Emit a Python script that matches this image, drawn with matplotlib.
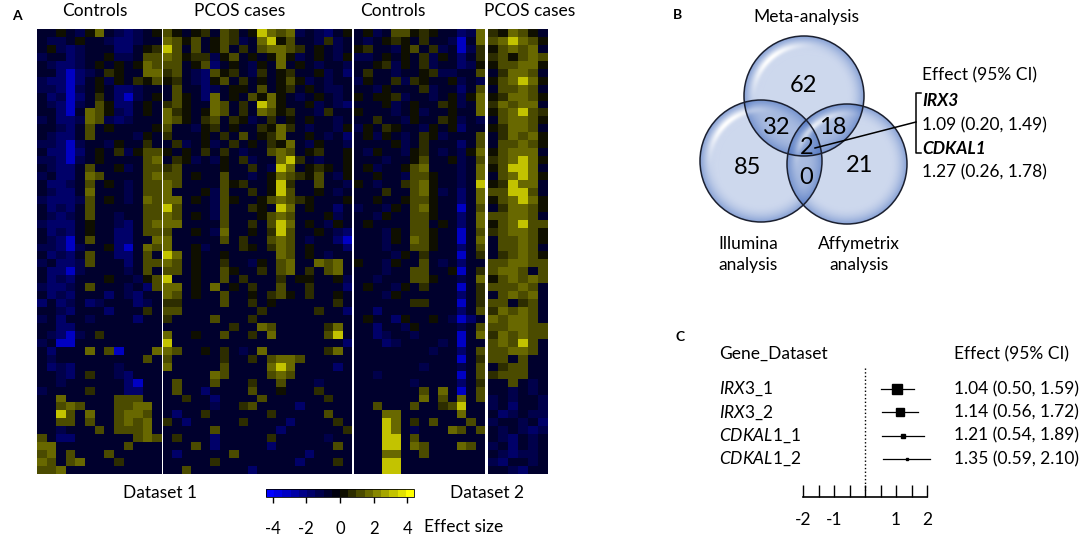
import numpy as np
import matplotlib
matplotlib.use('Agg')
import matplotlib.pyplot as plt
import matplotlib.cm as cm
from matplotlib.colors import LinearSegmentedColormap, Normalize
from matplotlib.patches import Circle

plt.rcParams['font.family'] = ['Lato', 'DejaVu Sans']
plt.rcParams['mathtext.fontset'] = 'custom'
plt.rcParams['mathtext.rm'] = 'Lato'
plt.rcParams['mathtext.it'] = 'Lato:italic'
plt.rcParams['mathtext.bf'] = 'Lato:bold'
plt.rcParams['axes.unicode_minus'] = False

# ---------------- data ----------------
group_labels = ['Controls', 'PCOS cases', 'Controls', 'PCOS cases']
dataset_labels = ['Dataset 1', 'Dataset 2']
panel_ncols = [13, 20, 14, 6]

# heatmap cells, one char per cell (level code)
level_codes = {'B': -3.3, 'b': -1.8, 'n': -1.1, 'k': -0.5, '.': 0.0,
               'd': 0.6, 'o': 1.2, 'y': 1.9, 'Y': 3.0}
heat_rows = [
    "kk.kn.yknbnk.|o.k.dkodk.Yyoynknbk.|k.nkoo.d.kkbny|d.yo.k",
    "knnk.kknbbnkk|yo.ok.odnkyY.okkndnk|knk.d.kdkknBky|oyYyo.",
    "k.nbnkkkbbk.d|Yokok.okdkoyyodk.knk|.dkkn.okdnkBnd|.oyoyk",
    "nkkbnkk.nnkoo|yo.ddn.ok.k.y.nk.kn.|nnk.k.kdn.kbkd|do.oyo",
    "knbbnk.k.k.yo|ook.obk.kn.kyk.knkkn|kk.dn.kdnkkbn.|.ooyy.",
    "kkbBbnkd.kkyy|doknbo.dkndk.dkk.nkb|kdkknkk.dnnkko|kdyyok",
    "nbbBbk.n.kd.o|.dknb.okdk.k.o.nknkk|n.kkdnd.kk.nkn|.oyYy.",
    "nnbBnk.kbbnkk|kokkbnk..kok.dk.knnk|kkn.kkkdnkkbko|kooyok",
    "kbnBbkdkbBnk.|ko.kbyk.ko.y.knk.knk|.k..dnkknk.n.y|.dyyo.",
    "knbBnko.bbk.k|do.kkyokdkYy.kk.nknb|kkk.nk.kkd.nky|dyoyyk",
    "kkbBkyo.nbk.k|yd.k.yokdkyo.dkkndkk|.kkknk.nkk.kky|.oyYod",
    "nkbbnyonbnkkk|yo.kdokd.nkdk.k.kknk|kkdkkn.kkd.nkn|koyyo.",
    "kknbkok.kkkk.|okkn.dk.kkd.ydknkkn.|n.kd.kkn.k.bkk|.dyyok",
    "knbbkokkkkn.k|dkkk.kdkok.dykk.knkb|k.n.knkd.nkkko|kdyoy.",
    "nnbBnkkn.kkdk|kdnk.nkdk.kd.ykn.kkn|kkkk.nkdkkkbko|kooyo.",
    "kbbBbk.kdn.oo|.k.kdkdknkkoyok.dkk.|kn.kkn.dknkn.y|.oyyyk",
    "nnbBnk.kkkkoy|kd.nkn.kdnkkyYdknkk.|kkknkk.okk.nko|doyYy.",
    "knbbkokk.nkoo|dokkkk.kkdknYyk.d.k.|k.nkk.oykkknky|.oYYyk",
    "nkbbkyokkkkoy|ook.kkokknk.yod.okn.|kk.kknoo.kknky|koyYy.",
    "kbbnkok.knkoo|yokkkko.dkk.Ydkkokkn|.knkkdoy.kknkY|.dYyyk",
    "knbbkykkknkoo|ykkk.nokkdk.Yokk.knk|kkkdkkoy.nkbky|ooYYok",
    "nbbbnok.knkyo|yyk.kno.kk.oyod.kkk.|kk.kk.oo.kkbky|.oyYy.",
    "kbnbkokkkkkoo|Yokkknokkd.kYyk.kkbk|nkkn.koy.kkBko|kdyyo.",
    "knbnkokknkkoo|yok.knokkk.oyokkk.nk|kkn.kkoo.kkbky|ooyyok",
    "nbbbk.kknbkoy|yykkkkokkdkoYyk.kn.k|k.kkkkook.kbky|.oyYoo",
    "kbnbk.kkbbkoo|okk.knykk.kdYokk.knb|kkkn.koo.kkBko|doyyo.",
    "knbBkokkbbkky|ykkkkkokdkkoyoknkkbB|kkkn.kyo.kkBky|kooyo.",
    "nnbBnkk.bBkyo|ykk.nkkkd.kdyok.kkkb|kkknkkoo.kkbko|kooyok",
    "kbnbkokkbbkok|Yyk.kk.kkkkkyok.knkk|kkkkn.kdkkkBkd|kdoyo.",
    "nkbbnokkkbkoo|yok.kkdkkn.koykkyoyk|.kkn.kkoknkbkk|ooyyoo",
    "kbbBnkkkknkok|ook.kko.kkdkoykdkoyk|kkknkkookk.Bkd|oyyoko",
    "kbnbkkk.kkn.o|Ykk.kkokdkkkdk..kk.n|kknkkkoo.kknky|.oyoyo",
    "nbbnkokkknkbo|yyk.kyk.kdkkokkdkkkb|k.kkn.kdkkkBkd|oooyok",
    "kbnbkkkbknbkk|yok.kkokk.kdo.kdkk.k|kkkn.kkkkkkbkd|koyoyk",
    "bkbnkbnkkkbnk|ddkkkkokkdk.kkkkkkdk|kkkkkkddkkkBkd|ookdok",
    "kknbkkkbkkkdk|ookkkkkkkkdkkkkkdkkb|kkbkkkkkkkkbko|dyoyok",
    "nkbkknkkkkbkk|dkkkkokkkdkkkkkkkkkk|k.kkb.kk.knBbk|yoyyok",
    "kkbbkkkkkkkkk|kkkkkkkdkkyokkkkkdyk|kkbkkn.kkkknko|ooyyoo",
    "knbBnkdkkkkkk|ykk.kkokkdkykkkkkoYk|kkbnkknkkkkBky|dyoyoo",
    "nkBBkkkkkkkkk|Ykkkkkkkkkkkkkkkkkkb|kkkbnkkkknkBkk|oyoYok",
    "kbkkkykoBkkky|yokk.kdknkykkkkkkdyk|kkkkkkkknkkbko|ooyyok",
    "knkkkkkkkkkok|okkkkkdkkdkoyyokkkkk|kkkkkkkkkkkBkd|ookokk",
    "kbnbkkkknkkkk|ykkkkkokkkkyYykkkkbk|kkkkkkknkkknko|kdookk",
    "kknbkdkknbkkk|kkkkkyokkkkoyokkkkkk|kknkkkkkkkkBko|doookk",
    "kknkkkkkkbBkk|kokkkokkkdkkokkknkkk|kkkkkknkkkkbkd|kkoknk",
    "nkkkkdkkkbbkk|kokkbkkkkokk.kkkdkkk|kkkkkkkokykBko|kknknk",
    "kkykkkkkoookk|kkdkkbkkkkokkkkkkdkk|kkkkkkkykokyko|nknkkn",
    "kkoyokkkooyyk|kkkkknkkdokkkkbkkkkk|kkokkkokkdoYkk|nkbkkn",
    "kkYokykkoyyok|kbkkdkkkkkkdkkkkkokk|kkkyykkkkkkykk|kbnknn",
    "kkookokkoyoyk|dkbkkkkkdkkkkbkkkkdk|kkkYykdkokkkok|nkknkb",
    "kknkkkokoooyk|kkkkkokkkkkkbkkkkkkd|kkkYyknkkkyoko|knknbn",
    "okbbkkkkkkoyo|kdkkkbkkkkkdkkkkknkk|kkkYYkokkkkkkk|knbknk",
    "yykkkkkkkokkk|kkkokbkkkkkbkkkkkkok|kkkYYkyokkkyok|nkbknk",
    "oykokkkokkkkk|kbkkkkkokkkkkkkbkkkk|kkkyykkokkkkkk|knbnnk",
    "yokoykkkdkkkk|kkkkkdkkkkkkkkbkkkdk|kkkYYkkkkkkkkk|nbkknk",
    "ooykkkkkkkkkk|kkokkkkkkbkkkkkkkkkk|kkkYYkkkkkkkkk|kknbkk",
]
cbar_ticks = [-4, -2, 0, 2, 4]

venn_sets = ['Meta-analysis', 'Illumina\nanalysis', 'Affymetrix\nanalysis']
venn_counts = [62, 32, 18, 2, 85, 0, 21]
overlap_genes = ['IRX3', 'CDKAL1']
overlap_effects = ['1.09 (0.20, 1.49)', '1.27 (0.26, 1.78)']

forest_genes = ['IRX3', 'IRX3', 'CDKAL1', 'CDKAL1']
forest_sets = ['1', '2', '1', '2']
forest_est = [1.04, 1.14, 1.21, 1.35]
forest_lo = [0.50, 0.56, 0.54, 0.59]
forest_hi = [1.59, 1.72, 1.89, 2.10]
forest_ticks = [-2, -1.5, -1, -0.5, 0, 0.5, 1, 1.5, 2]
forest_ticklabels = ['-2', '', '-1', '', '', '', '1', '', '2']

# ---------------- layout helpers ----------------
W, H = 1084, 536
fig = plt.figure(figsize=(W / 100, H / 100), dpi=100)


def fax(x0, y0, x1, y1):
    return [x0 / W, 1 - y1 / H, (x1 - x0) / W, (y1 - y0) / H]


def panel_matrix(k):
    out = []
    for row in heat_rows:
        part = row.split('|')[k]
        n = panel_ncols[k]
        part = (part + 'k' * n)[:n]
        out.append([level_codes[c] for c in part])
    return np.array(out)


# ---------------- A: heatmap ----------------
cmap = LinearSegmentedColormap.from_list('blue_yellow', ['#0000ff', '#000000', '#ffff00'], N=18)
norm = Normalize(-4.4, 4.4)
panel_px = [(37, 161), (163, 352), (354, 485), (488, 548)]
for k, (x0, x1) in enumerate(panel_px):
    ax = fig.add_axes(fax(x0, 29, x1, 474))
    ax.imshow(panel_matrix(k), cmap=cmap, norm=norm, aspect='auto', interpolation='nearest')
    ax.axis('off')

cax = fig.add_axes(fax(266, 489, 414, 497))
cb = fig.colorbar(cm.ScalarMappable(norm=norm, cmap=cmap), cax=cax,
                  orientation='horizontal', ticks=cbar_ticks)
cb.outline.set_linewidth(0.6)
cax.tick_params(length=4, width=1, pad=13, labelsize=12)

# ---------------- C: forest plot ----------------
axf = fig.add_axes(fax(803, 366, 927, 497))
axf.patch.set_visible(False)
axf.set_xlim(-2, 2)
axf.set_ylim(4.63, -0.99)
box_sizes = [7, 6, 3.5, 2]
for i in range(len(forest_est)):
    axf.plot([forest_lo[i], forest_hi[i]], [i, i], color='black', lw=0.9, clip_on=False)
    axf.plot(forest_est[i], i, marker='s', ms=box_sizes[i], color='black', clip_on=False)
    axf.text(-4.71, i, r'$\mathit{%s}$_%s' % (forest_genes[i], forest_sets[i]),
             ha='left', va='center', fontsize=12.5)
    axf.text(2.87, i, f'{forest_est[i]:.2f} ({forest_lo[i]:.2f}, {forest_hi[i]:.2f})',
             ha='left', va='center', fontsize=12.5)
axf.text(-4.71, -1.5, 'Gene_Dataset', ha='left', va='center', fontsize=12.5)
axf.text(2.87, -1.5, 'Effect (95% CI)', ha='left', va='center', fontsize=12.5)
axf.plot([0, 0], [-0.9, 4.33], color='black', lw=1, ls=':', clip_on=False)
for s in ['top', 'left', 'right']:
    axf.spines[s].set_visible(False)
axf.spines['bottom'].set_linewidth(1.2)
axf.set_yticks([])
axf.set_xticks(forest_ticks)
axf.set_xticklabels(forest_ticklabels)
axf.tick_params(axis='x', direction='in', length=9, width=1, pad=11, labelsize=12.5)

# ---------------- overlay: texts + Venn ----------------
axo = fig.add_axes([0, 0, 1, 1])
axo.patch.set_visible(False)
axo.axis('off')

title_x = [95, 240, 393, 530]
for lab, x in zip(group_labels, title_x):
    axo.text(x, 11, lab, ha='center', va='center', fontsize=12.5)
axo.text(160, 493, dataset_labels[0], ha='center', va='center', fontsize=12.5)
axo.text(487, 493, dataset_labels[1], ha='center', va='center', fontsize=12.5)
axo.text(424, 527, 'Effect size', ha='left', va='center', fontsize=12.5)

for lab, (x, y) in zip('ABC', [(17, 16), (677, 15), (680, 337)]):
    axo.text(x, y, lab, ha='center', va='center', fontsize=10, fontweight='bold')

# glassy circles: light body, darker rim, white highlight on the upper left
venn_centers = [(804, 96), (761, 161), (847, 164)]
venn_radii = [60, 61, 60]
base_rgb = np.array([70, 110, 190]) / 255.0
for (cx, cy), r in zip(venn_centers, venn_radii):
    xs = np.linspace(cx - r, cx + r, 260)
    ys = np.linspace(cy - r, cy + r, 260)
    X, Y = np.meshgrid(xs, ys)
    t = np.hypot(X - cx, Y - cy) / r
    ang = np.arctan2(Y - cy, X - cx)
    rim = np.clip((t - 0.72) / 0.28, 0, 1) ** 2
    alpha = 0.27 + 0.38 * rim
    hl = np.exp(-((t - 0.84) / 0.07) ** 2) * np.clip(np.cos(ang + 2.3), 0, 1) ** 3
    rgba = np.zeros(X.shape + (4,))
    for c in range(3):
        rgba[..., c] = base_rgb[c] * (1 - hl) + hl
    rgba[..., 3] = alpha * (1 - hl) + 0.55 * hl
    circ = Circle((cx, cy), r, facecolor='none', edgecolor='#1b2030', lw=1.1, zorder=4)
    axo.add_patch(circ)
    im = axo.imshow(rgba, extent=(cx - r, cx + r, cy + r, cy - r), origin='upper',
                    interpolation='bilinear', zorder=3, aspect='auto')
    im.set_clip_path(circ)

count_pos = [(803, 85), (777, 128), (833, 128), (807, 147), (748, 167), (806, 177), (860, 165)]
for n, (x, y) in zip(venn_counts, count_pos):
    axo.text(x, y, str(n), ha='center', va='center', fontsize=17, zorder=5)

axo.text(806, 17, venn_sets[0], ha='center', va='center', fontsize=12.5)
for lab, x in zip(venn_sets[1:], [748, 859]):
    top, bottom = lab.split('\n')
    axo.text(x, 244, top, ha='center', va='center', fontsize=12.5)
    axo.text(x, 265, bottom, ha='center', va='center', fontsize=12.5)

axo.text(922, 75, 'Effect (95% CI)', ha='left', va='center', fontsize=12.5)
for k, (g, e) in enumerate(zip(overlap_genes, overlap_effects)):
    axo.text(922, 101 + 48 * k, g, ha='left', va='center', fontsize=12.5,
             fontweight='bold', fontstyle='italic')
    axo.text(922, 125 + 47 * k, e, ha='left', va='center', fontsize=12.5)
axo.plot([921, 916, 916, 921], [93, 93, 153, 153], color='black', lw=1.1, zorder=5)
axo.plot([916, 815], [122, 148], color='black', lw=1.1, zorder=5)

axo.set_xlim(0, W)
axo.set_ylim(H, 0)

fig.savefig('out.png', dpi=100)
